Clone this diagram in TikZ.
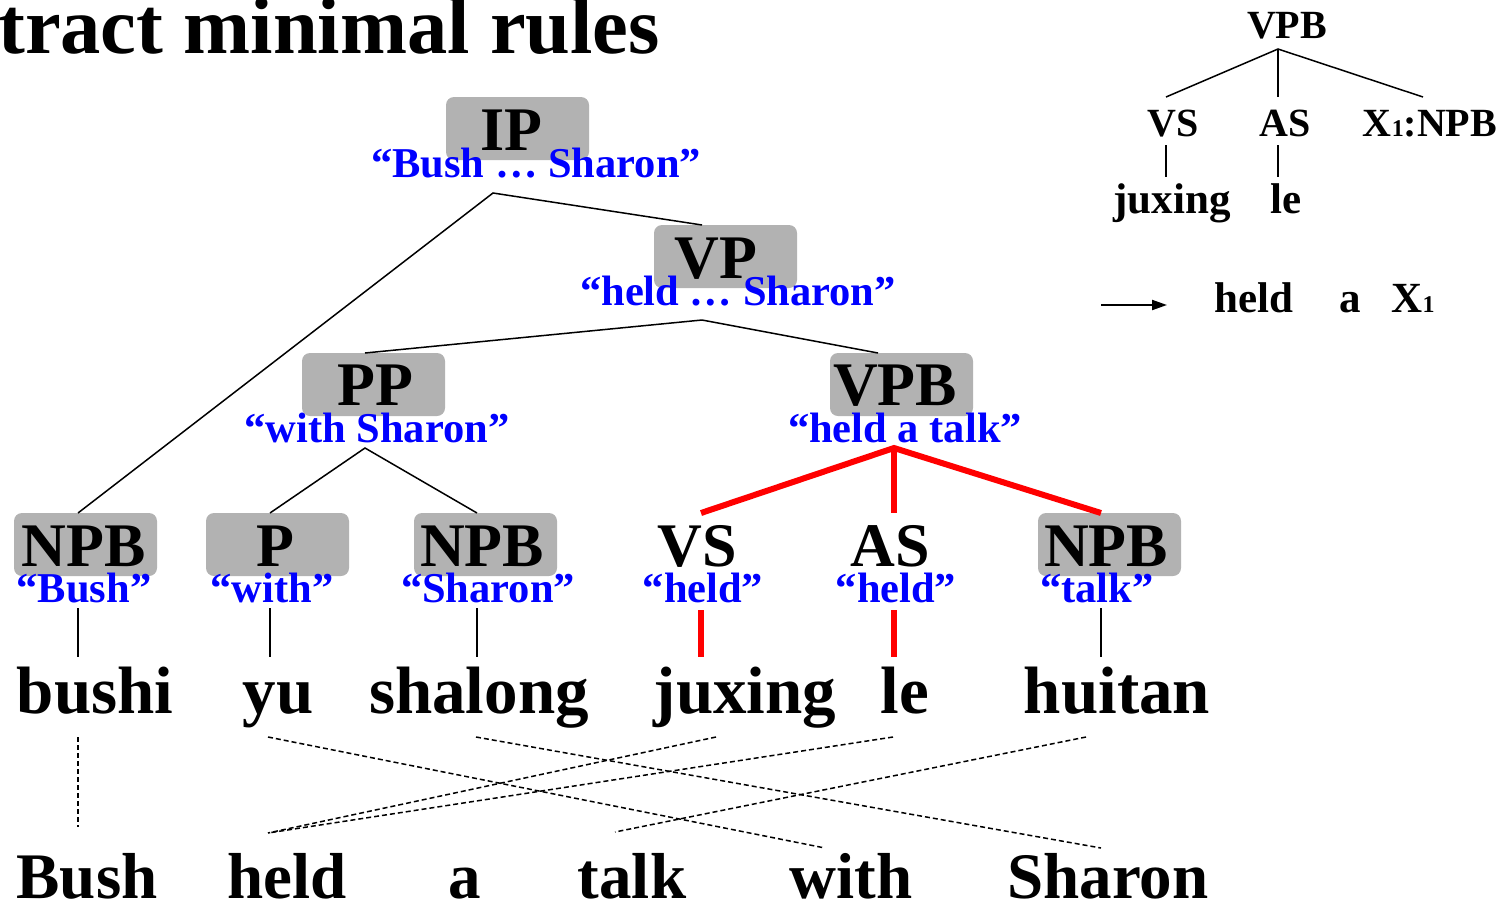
\documentclass[tikz,border=0pt]{standalone}
\usepackage{fontspec}
\setmainfont{Liberation Serif}
\usetikzlibrary{arrows.meta}

% font helpers for the different text layers
\newcommand{\fsz}[1]{\fontsize{#1}{#1}\selectfont}

\begin{document}
\begin{tikzpicture}[x=1pt,y=-1pt,
  gbox/.style={fill=gray!60, rounded corners=8, minimum width=143, minimum height=63, inner sep=0},
  cat/.style={font=\bfseries\fsz{62}, anchor=base, inner sep=0},
  gloss/.style={text=blue, font=\bfseries\fsz{42.5}, anchor=base, inner sep=0},
  word/.style={font=\bfseries\fsz{67}, anchor=base, inner sep=0},
  eng/.style={font=\bfseries\fsz{65}, anchor=base, inner sep=0},
  rcat/.style={font=\bfseries\fsz{40}, anchor=base, inner sep=0},
  rword/.style={font=\bfseries\fsz{43}, anchor=base, inner sep=0},
  edge/.style={line width=1.5},
  redge/.style={red, line width=6},
  align/.style={dash pattern=on 5 off 3, line width=1.5}]
\useasboundingbox (0,0) rectangle (1510,906);

% heading
\node[font=\bfseries\fsz{80.5}, anchor=base west, inner sep=0] (title) at (-2,53) {tract minimal rules};

% shaded boxes behind the tree categories
\node[gbox] (ipbox)   at (517.5,128.5) {};
\node[gbox] (vpbox)   at (725.5,256.5) {};
\node[gbox] (ppbox)   at (373.5,384.5) {};
\node[gbox] (vpbbox)  at (901.5,384.5) {};
\node[gbox] (npbabox) at (85.5,544.5) {};
\node[gbox] (pbox)    at (277.5,544.5) {};
\node[gbox] (npbbbox) at (485.5,544.5) {};
\node[gbox] (npbcbox) at (1109.5,544.5) {};

% categories
\node[cat] (ip)   at (511,150) {IP};
\node[cat] (vp)   at (716,278) {VP};
\node[cat] (pp)   at (375,405) {PP};
\node[cat] (vpb)  at (895,405) {VPB};
\node[cat] (npba) at (83.5,566) {NPB};
\node[cat] (p)    at (275,566) {P};
\node[cat] (npbb) at (482,566) {NPB};
\node[cat] (vs)   at (697,566) {VS};
\node[cat] (as)   at (890,566) {AS};
\node[cat] (npbc) at (1106,566) {NPB};

% spans
\node[gloss] (ipg)   at (536,177) {“Bush … Sharon”};
\node[gloss] (vpg)   at (738,305) {“held … Sharon”};
\node[gloss] (ppg)   at (377,442) {“with Sharon”};
\node[gloss] (vpbg)  at (905,442) {“held a talk”};
\node[gloss] (npbag) at (84,602)  {“Bush”};
\node[gloss] (pg)    at (272,602) {“with”};
\node[gloss] (npbbg) at (488,602) {“Sharon”};
\node[gloss] (vsg)   at (703,602) {“held”};
\node[gloss] (asg)   at (896,602) {“held”};
\node[gloss] (npbcg) at (1097,602) {“talk”};

% source words
\node[word] (w1) at (95,713)   {bushi};
\node[word] (w2) at (278,713)  {yu};
\node[word] (w3) at (479,713)  {shalong};
\node[word] (w4) at (745,713)  {juxing};
\node[word] (w5) at (905,713)  {le};
\node[word] (w6) at (1117,713) {huitan};

% target words
\node[eng] (e1) at (87,898)   {Bush};
\node[eng] (e2) at (287,898)  {held};
\node[eng] (e3) at (465,898)  {a};
\node[eng] (e4) at (632,898)  {talk};
\node[eng] (e5) at (851,898)  {with};
\node[eng] (e6) at (1108,898) {Sharon};

% attachment points of the tree edges
\coordinate (ipd)   at (493,193);
\coordinate (vpu)   at (702,225);
\coordinate (vpd)   at (702,320);
\coordinate (ppu)   at (365,353);
\coordinate (ppd)   at (365,448);
\coordinate (vpbu)  at (878,353);
\coordinate (vpbd)  at (894,448);
\coordinate (npbau) at (78,513);
\coordinate (pu)    at (270,513);
\coordinate (npbbu) at (477,513);
\coordinate (vsu)   at (701,513);
\coordinate (asu)   at (894,513);
\coordinate (npbcu) at (1101,513);
\coordinate (npbad) at (78,608);
\coordinate (pd)    at (270,608);
\coordinate (npbbd) at (477,608);
\coordinate (vsd)   at (701,610);
\coordinate (asd)   at (894,610);
\coordinate (npbcd) at (1101,608);
\coordinate (w1u) at (78,657);
\coordinate (w2u) at (270,657);
\coordinate (w3u) at (477,657);
\coordinate (w4u) at (701,657);
\coordinate (w5u) at (894,657);
\coordinate (w6u) at (1101,657);

% tree edges
\draw[edge] (npbau) -- (ipd) -- (vpu);
\draw[edge] (ppu) -- (vpd) -- (vpbu);
\draw[edge] (pu) -- (ppd) -- (npbbu);
\draw[redge] (vsu) -- (vpbd) -- (npbcu);
\draw[redge] (vpbd) -- (asu);
\draw[edge] (npbad) -- (w1u);
\draw[edge] (pd) -- (w2u);
\draw[edge] (npbbd) -- (w3u);
\draw[redge] (vsd) -- (w4u);
\draw[redge] (asd) -- (w5u);
\draw[edge] (npbcd) -- (w6u);

% word alignment
\coordinate (a1s) at (78,737);   \coordinate (a1t) at (78,827);
\coordinate (a2s) at (268,737);  \coordinate (a2t) at (825,848);
\coordinate (a3s) at (476,737);  \coordinate (a3t) at (1101,848);
\coordinate (a4s) at (716,737);  \coordinate (a4t) at (268,833);
\coordinate (a5s) at (893,737);  \coordinate (a5t) at (268,833);
\coordinate (a6s) at (1086,737); \coordinate (a6t) at (615,832);
\draw[align] (a1s) -- (a1t);
\draw[align] (a2s) -- (a2t);
\draw[align] (a3s) -- (a3t);
\draw[align] (a4s) -- (a4t);
\draw[align] (a5s) -- (a5t);
\draw[align] (a6s) -- (a6t);

% extracted rule
\node[rcat] (rvpb) at (1287,38)  {VPB};
\node[rcat] (rvs)  at (1173,136) {VS};
\node[rcat] (ras)  at (1285,136) {AS};
\node[rcat] (rnpb) at (1430,136) {X{\fsz{24}1}:NPB};
\node[rword] (rju) at (1172,213) {juxing};
\node[rword] (rle) at (1286,213) {le};
\coordinate (rtop) at (1278,49);
\coordinate (rvsu) at (1166,97);
\coordinate (rasu) at (1278,97);
\coordinate (rnpu) at (1423,97);
\coordinate (rvsd) at (1166,145);
\coordinate (rasd) at (1278,145);
\coordinate (rjuu) at (1166,177);
\coordinate (rleu) at (1278,177);
\draw[edge] (rvsu) -- (rtop) -- (rnpu);
\draw[edge] (rtop) -- (rasu);
\draw[edge] (rvsd) -- (rjuu);
\draw[edge] (rasd) -- (rleu);

\coordinate (arrs) at (1101,305);
\coordinate (arre) at (1167,305);
\draw[line width=2, -{Triangle[length=15,width=10]}] (arrs) -- (arre);
\node[rword] (rheld) at (1254,312) {held};
\node[rword] (ra)    at (1350,312) {a};
\node[rword] (rx)    at (1413,312) {X{\fsz{24}1}};
\end{tikzpicture}
\end{document}
